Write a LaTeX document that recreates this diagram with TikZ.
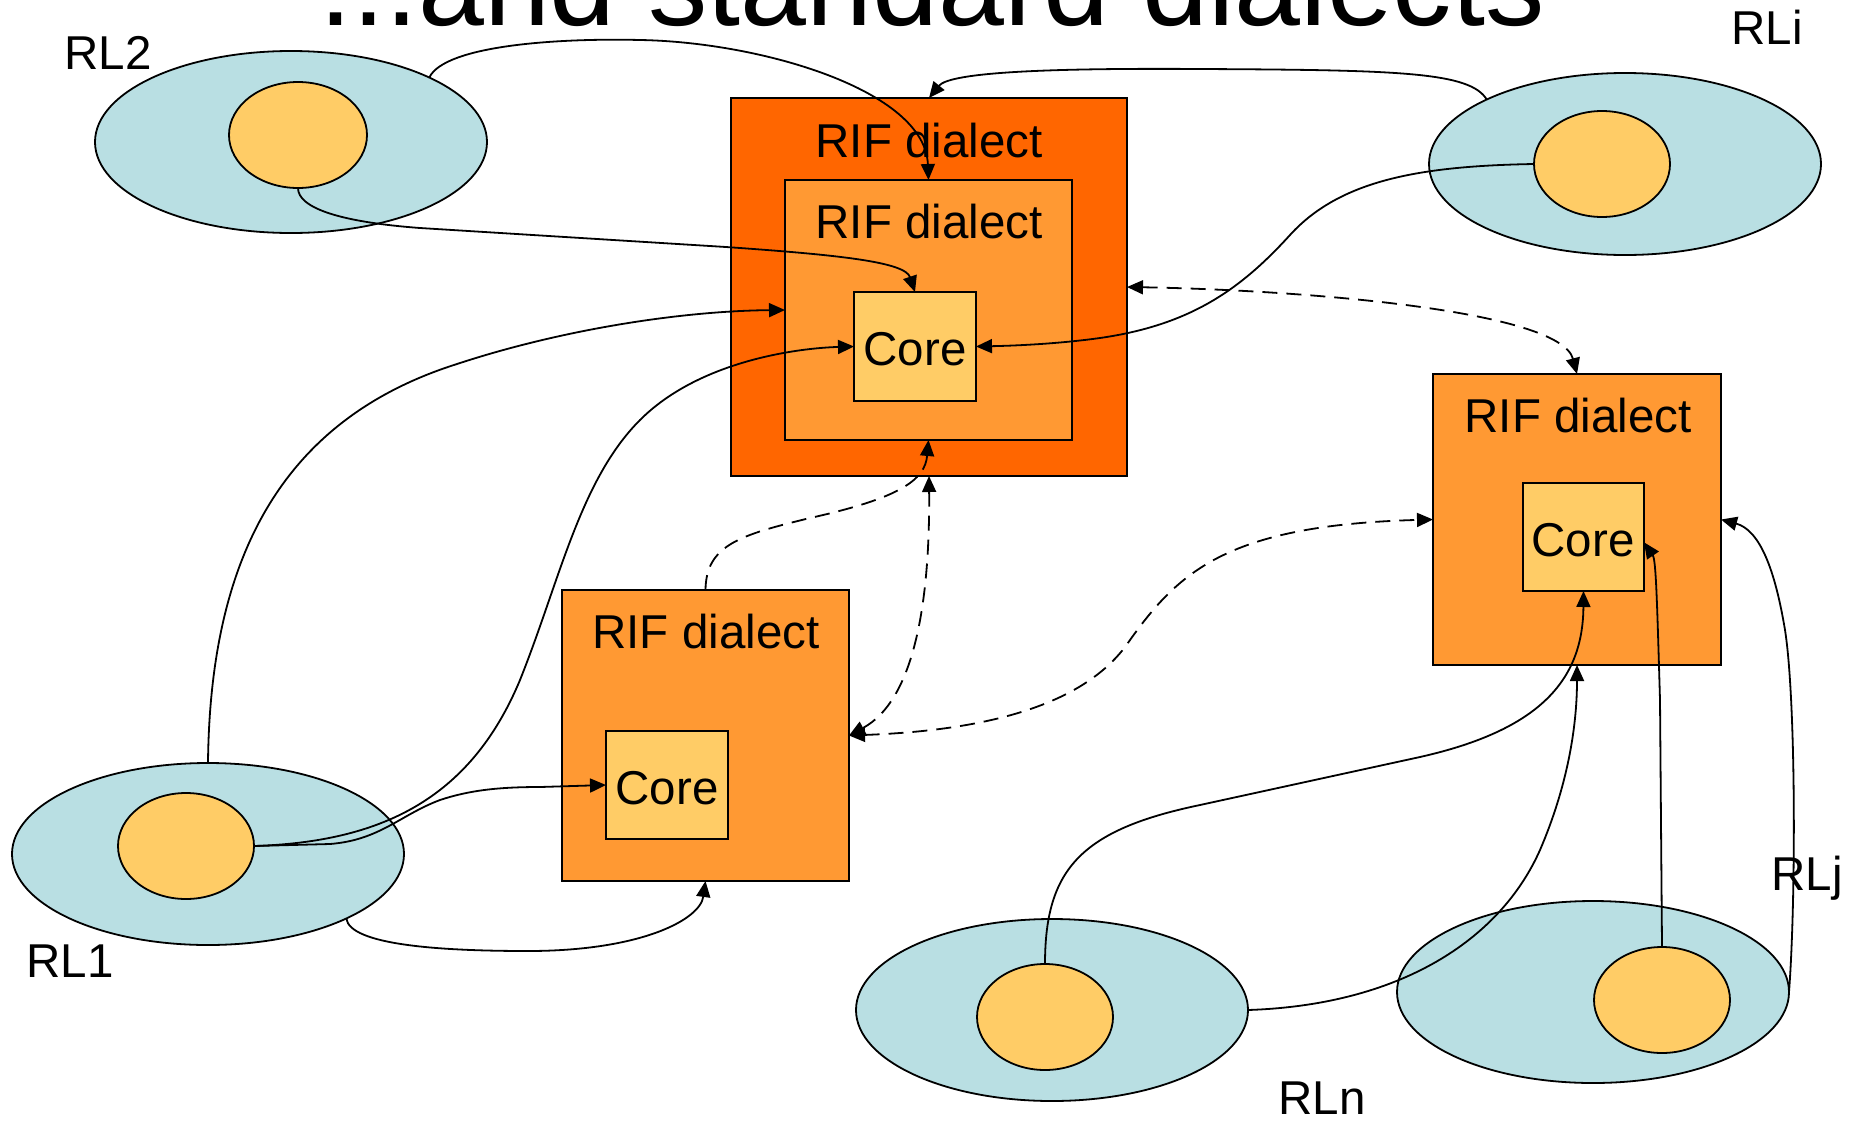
\documentclass[tikz,border=0pt]{standalone}
\usepackage{fontspec}
\setmainfont{Liberation Sans}
\usetikzlibrary{shapes.geometric,arrows.meta}
\definecolor{rlblue}{HTML}{B9DFE3}
\definecolor{rlcore}{HTML}{FFCC66}
\definecolor{boxdark}{HTML}{FF6600}
\definecolor{boxmid}{HTML}{FF9933}
\begin{document}
\begin{tikzpicture}[x=1pt,y=-1pt,
  rlouter/.style={ellipse, draw, line width=1.8pt, fill=rlblue, minimum width=392pt, minimum height=182pt, inner sep=0pt, outer sep=0pt},
  rlinner/.style={ellipse, draw, line width=1.8pt, fill=rlcore, minimum height=106pt, inner sep=0pt, outer sep=0pt},
  dbox/.style={rectangle, draw, line width=1.6pt, inner sep=0pt, outer sep=0pt, anchor=north west},
  lbl/.style={font=\fontsize{47.5}{57}\selectfont, anchor=base, inner sep=0pt},
  conn/.style={line width=1.8pt, -{Triangle[length=16pt,width=14pt]}},
  dconn/.style={line width=1.8pt, dash pattern=on 15pt off 9pt, -{Triangle[length=16pt,width=14pt]}},
  dconntwo/.style={line width=1.8pt, dash pattern=on 15pt off 9pt, {Triangle[length=16pt,width=14pt]}-{Triangle[length=16pt,width=14pt]}}
]
\useasboundingbox (0,0) rectangle (1855,1122);

\node[font=\fontsize{118.5}{140}\selectfont, anchor=base, inner sep=0pt] (title) at (932,25) {...and standard dialects};

% languages
\node[rlouter] (rl2) at (291,142) {};
\node[rlinner, minimum width=138pt] (rl2i) at (298,135) {};
\node[rlouter] (rli) at (1625,164) {};
\node[rlinner, minimum width=136pt] (rlii) at (1602,164) {};
\node[rlouter] (rl1) at (208,854) {};
\node[rlinner, minimum width=136pt] (rl1i) at (186,846) {};
\node[rlouter] (rln) at (1052,1010) {};
\node[rlinner, minimum width=136pt] (rlni) at (1045,1017) {};
\node[rlouter] (rlj) at (1593,992) {};
\node[rlinner, minimum width=136pt] (rlji) at (1662,1000) {};

\node[lbl] (lrl2) at (108,69) {RL2};
\node[lbl] (lrli) at (1767,44) {RLi};
\node[lbl] (lrl1) at (70,977) {RL1};
\node[lbl] (lrln) at (1322,1114) {RLn};
\node[lbl] (lrlj) at (1807,890) {RLj};

% dialect boxes
\node[dbox, fill=boxdark, minimum width=396pt, minimum height=378pt] (outer) at (731,98) {};
\node[dbox, fill=boxmid, minimum width=287pt, minimum height=260pt] (inner) at (785,180) {};
\node[dbox, fill=rlcore, minimum width=122pt, minimum height=109pt] (core1) at (854,292) {};
\node[dbox, fill=boxmid, minimum width=288pt, minimum height=291pt] (rbox) at (1433,374) {};
\node[dbox, fill=rlcore, minimum width=121pt, minimum height=108pt] (coreR) at (1523,483) {};
\node[dbox, fill=boxmid, minimum width=287pt, minimum height=291pt] (boxB) at (562,590) {};
\node[dbox, fill=rlcore, minimum width=122pt, minimum height=108pt] (coreB) at (606,731) {};

\node[lbl] (t1) at (929,157) {RIF dialect};
\node[lbl] (t2) at (929,238) {RIF dialect};
\node[lbl] (t3) at (915,365) {Core};
\node[lbl] (t4) at (1578,432) {RIF dialect};
\node[lbl] (t5) at (1583,556) {Core};
\node[lbl] (t6) at (706,648) {RIF dialect};
\node[lbl] (t7) at (667,804) {Core};

% connectors
\draw[conn] (rl2.25) .. controls (445,45) and (560,38) .. (640,40) .. controls (760,42) and (925,90) .. (inner.north);
\draw[conn] (rl2i.south) .. controls (298,208) and (340,222) .. (420,228) -- (726,247) .. controls (840,255) and (905,262) .. (core1.north);
\draw[conn] (rli.155) .. controls (1470,72) and (1400,70) .. (1200,69) .. controls (1050,68) and (950,72) .. (outer.north);
\draw[conn] (rlii.west) .. controls (1420,166) and (1340,180) .. (1290,235) .. controls (1240,290) and (1190,325) .. (1100,338) .. controls (1050,345) and (1000,346) .. (core1.east);
\draw[dconntwo] (outer.east) .. controls (1300,290) and (1560,310) .. (rbox.north);
\draw[conn] (rl1.north) .. controls (210,560) and (280,420) .. (457,364) .. controls (560,330) and (680,311) .. (inner.west);
\draw[conn] (rl1i.east) .. controls (380,842) and (470,800) .. (520,680) .. controls (560,580) and (580,480) .. (640,420) .. controls (700,360) and (800,348) .. (core1.west);
\draw[conn] (rl1i.east) -- (330,844) .. controls (380,840) and (400,815) .. (440,800) .. controls (470,790) and (500,787) .. (540,787) -- (coreB.west);
\draw[conn] (rl1.-25) .. controls (350,945) and (440,951) .. (528,951) .. controls (640,951) and (700,920) .. (boxB.south);
\draw[dconn] (boxB.north) .. controls (706,545) and (740,535) .. (810,518) .. controls (900,498) and (925,480) .. (inner.south);
\draw[dconntwo] (outer.south) .. controls (930,600) and (915,700) .. (boxB.east);
\draw[dconntwo] (boxB.east) .. controls (1000,730) and (1090,700) .. (1130,640) .. controls (1180,570) and (1230,525) .. (rbox.west);
\draw[conn] (rlni.north) .. controls (1045,870) and (1080,830) .. (1200,805) -- (1420,757) .. controls (1540,730) and (1583,680) .. (coreR.south);
\draw[conn] (rln.east) .. controls (1400,1005) and (1500,940) .. (1540,850) .. controls (1570,780) and (1577,720) .. (rbox.south);
\draw[conn] (rlji.north) -- (1660,700) .. controls (1657,600) and (1656,560) .. (coreR.-5);
\draw[conn] (rlj.east) .. controls (1796,900) and (1796,700) .. (1785,630) .. controls (1775,570) and (1760,530) .. (rbox.east);
\end{tikzpicture}
\end{document}
